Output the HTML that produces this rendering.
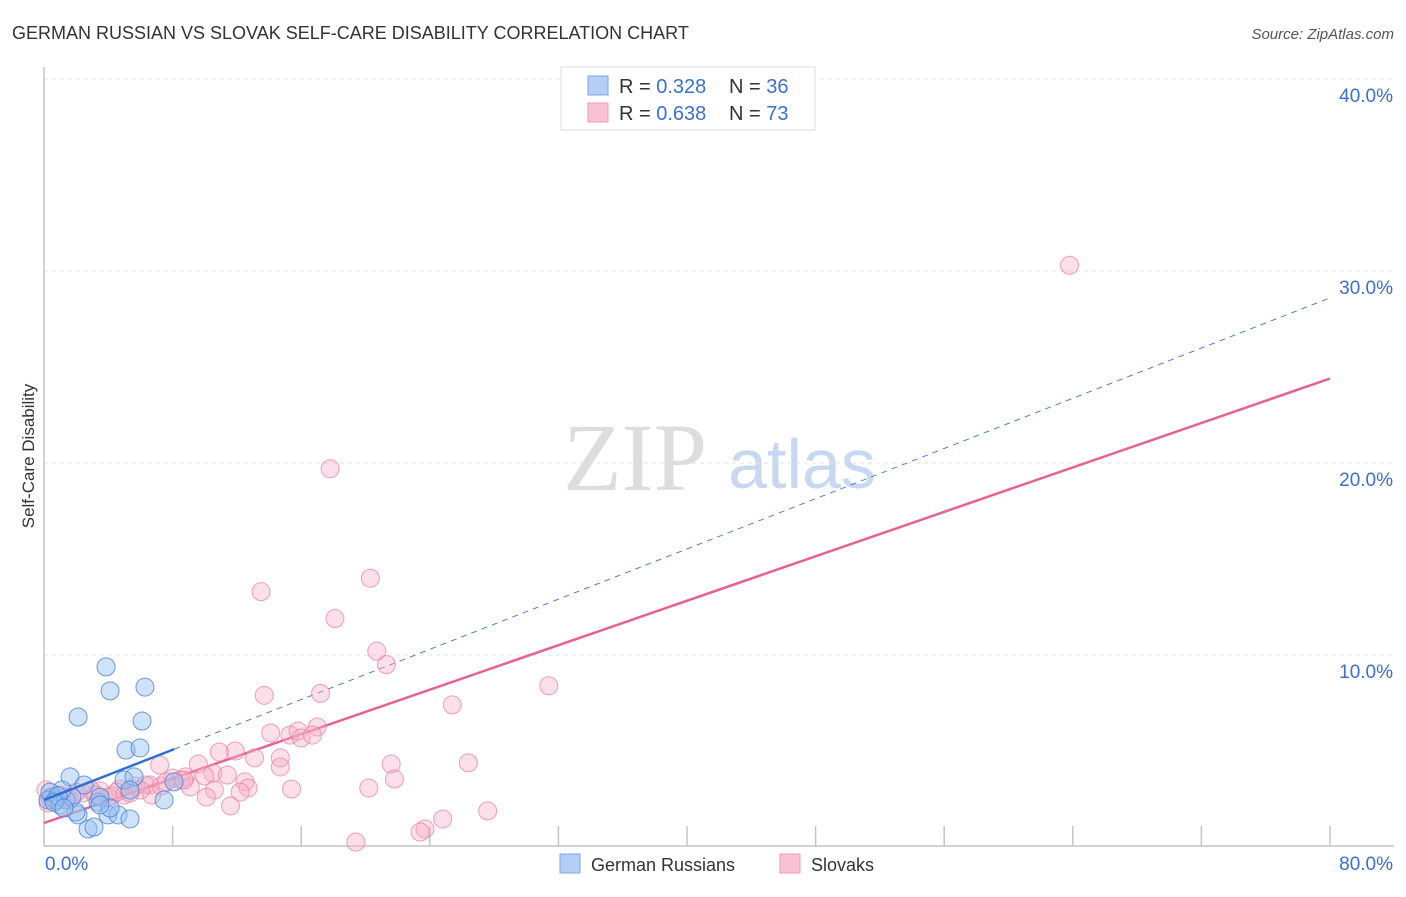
<!DOCTYPE html>
<html><head><meta charset="utf-8"><style>
body{margin:0;background:#fff;font-family:"Liberation Sans",sans-serif;}
</style></head><body>
<svg id="chart" width="1406" height="892" xmlns="http://www.w3.org/2000/svg">
<text x="12" y="39" font-size="18" fill="#333">GERMAN RUSSIAN VS SLOVAK SELF-CARE DISABILITY CORRELATION CHART</text>
<text x="1394" y="39" font-size="15" fill="#555" font-style="italic" text-anchor="end">Source: ZipAtlas.com</text>
<text x="34" y="456" font-size="17" fill="#333" text-anchor="middle" transform="rotate(-90 34 456)">Self-Care Disability</text>
<g>
<text x="635" y="490" font-size="96" fill="#ddd" font-family="Liberation Serif,serif" text-anchor="middle">ZIP</text>
<text x="802" y="488" font-size="70" fill="#c8d8f0" text-anchor="middle">atlas</text>
</g>
<g id="grid"></g>
<g id="axes"></g>
<g id="trends"></g>
<g id="points"></g>
<g>
<rect x="561" y="67" width="254" height="63" fill="#fff" stroke="#ddd"/>
<rect x="588" y="76" width="20" height="19" fill="#b4cff5" stroke="#7aa6e4"/>
<rect x="588" y="103" width="20" height="19" fill="#f9c3d4" stroke="#ee9ab6"/>
<text x="619" y="93" font-size="20" fill="#333">R = <tspan fill="#3a70d0">0.328</tspan></text>
<text x="729" y="93" font-size="20" fill="#333">N = <tspan fill="#3a70d0">36</tspan></text>
<text x="619" y="120" font-size="20" fill="#333">R = <tspan fill="#3a70d0">0.638</tspan></text>
<text x="729" y="120" font-size="20" fill="#333">N = <tspan fill="#3a70d0">73</tspan></text>
</g>
<g>
<rect x="560" y="854" width="20" height="19" fill="#b4cff5" stroke="#7aa6e4"/>
<text x="591" y="871" font-size="18" fill="#333">German Russians</text>
<rect x="780" y="854" width="20" height="19" fill="#f9c3d4" stroke="#ee9ab6"/>
<text x="811" y="871" font-size="18" fill="#333">Slovaks</text>
</g>
</svg>
<script>
const yTicks=[10,20,30,40];
const yTickLabels=["10.0%","20.0%","30.0%","40.0%"];
const xEndLabels=["0.0%","80.0%"];
const blueX=[3.86,4.11,6.28,2.12,6.10,5.10,5.97,1.62,2.49,3.36,4.98,5.60,7.47,3.98,4.60,5.35,2.74,3.11,2.12,0.5,0.75,0.25,1.0,1.37,1.74,1.12,0.37,1.99,3.48,0.87,5.35,4.11,8.09,0.62,1.24,3.48];
const blueY=[9.38,8.13,8.33,6.77,6.56,5.05,5.16,3.65,3.23,2.34,3.49,3.65,2.45,1.67,1.67,1.46,0.94,1.04,1.67,2.6,2.45,2.45,2.19,2.45,2.6,2.97,2.86,1.82,2.6,2.66,2.97,2.03,3.39,2.34,2.03,2.19];
const pinkX=[63.8,17.8,13.5,20.3,18.1,20.7,21.3,31.4,13.7,17.2,25.4,17.0,14.1,15.3,15.8,16.0,16.7,11.9,10.9,13.1,9.6,14.7,21.6,26.4,14.7,7.2,10.5,11.4,8.8,8.0,8.5,10.0,21.8,12.5,6.6,5.7,6.3,4.7,12.7,15.4,20.2,7.3,9.1,10.6,10.1,12.2,6.7,5.0,3.5,4.2,2.9,2.4,1.4,0.75,0.25,0.12,11.6,27.6,24.8,23.7,23.4,19.4,1.0,1.6,3.2,4.0,4.5,6.0,7.6,8.7,0.37,2.0,5.35];
const pinkY=[30.3,19.7,13.3,14.0,11.9,10.2,9.5,8.4,7.9,8.0,7.4,6.25,5.94,5.83,6.04,5.68,5.83,5.0,4.95,4.64,4.32,4.64,4.32,4.38,4.17,4.27,3.85,3.75,3.65,3.59,3.49,3.70,3.54,3.39,3.23,3.18,3.23,3.02,3.07,3.02,3.07,3.18,3.13,2.97,2.60,2.86,2.71,2.71,2.92,2.66,2.97,2.81,2.60,2.45,2.29,2.97,2.14,1.88,1.46,0.94,0.78,0.26,2.71,2.45,2.71,2.60,2.86,2.97,3.39,3.49,2.55,2.86,2.81];
const blueTrend=[2.45,28.6];
const pinkTrend=[1.25,24.4];
const blueSolidEnd=8.1;

const NS="http://www.w3.org/2000/svg";
const X=v=>44+v*16.075;
const Y=v=>847-v*19.2;
function mk(tag,attrs,parent){const e=document.createElementNS(NS,tag);for(const k in attrs)e.setAttribute(k,attrs[k]);document.getElementById(parent).appendChild(e);return e;}

yTicks.forEach((t,i)=>{
  const g=mk('line',{x1:44,x2:1394,y1:Y(t),y2:Y(t),stroke:'#e2e2e2','stroke-dasharray':'4,4'},'grid');
  
  
  const l=mk('text',{x:1393,y:Y(t)+23,'font-size':19,fill:'#3a70d0','text-anchor':'end'},'grid');
  l.textContent=yTickLabels[i];
  
  
});
const ya=mk('line',{x1:44,x2:44,y1:67,y2:846,stroke:'#c4c4c4','stroke-width':1.5},'axes');


const xa=mk('line',{x1:44,x2:1394,y1:846,y2:846,stroke:'#c4c4c4','stroke-width':1.5},'axes');


for(let k=1;k<=10;k++){
  const t=mk('line',{x1:X(k*8),x2:X(k*8),y1:826,y2:846,stroke:'#c4c4c4','stroke-width':1.5},'axes');
  
  
}
[[0,'start',45],[80,'end',1393]].forEach((d,i)=>{
  const l=mk('text',{x:d[2],y:870,'font-size':19,fill:'#3a70d0','text-anchor':d[1]},'axes');
  l.textContent=xEndLabels[i];
  
  
});

const by=v=>blueTrend[0]+(blueTrend[1]-blueTrend[0])*v/80;
const bd=mk('line',{x1:X(blueSolidEnd),y1:Y(by(blueSolidEnd)),x2:X(80),y2:Y(blueTrend[1]),stroke:'#4a80d8','stroke-width':1,'stroke-dasharray':'6,5'},'trends');


const pl=mk('line',{x1:X(0),y1:Y(pinkTrend[0]),x2:X(80),y2:Y(pinkTrend[1]),stroke:'#e8628e','stroke-width':2.5},'trends');



pinkX.forEach((x,i)=>{
  const c=mk('circle',{cx:X(x),cy:Y(pinkY[i]),r:9,fill:'rgba(247,176,198,0.4)',stroke:'rgba(232,130,166,0.75)','stroke-width':1},'points');
  
  
});
blueX.forEach((x,i)=>{
  const c=mk('circle',{cx:X(x),cy:Y(blueY[i]),r:9,fill:'rgba(150,190,240,0.45)',stroke:'rgba(70,130,220,0.8)','stroke-width':1},'points');
  
  
});
const bs=mk('line',{x1:X(0),y1:Y(blueTrend[0]),x2:X(blueSolidEnd),y2:Y(by(blueSolidEnd)),stroke:'#2f6fd6','stroke-width':2.5},'points');


</script>
</body></html>
